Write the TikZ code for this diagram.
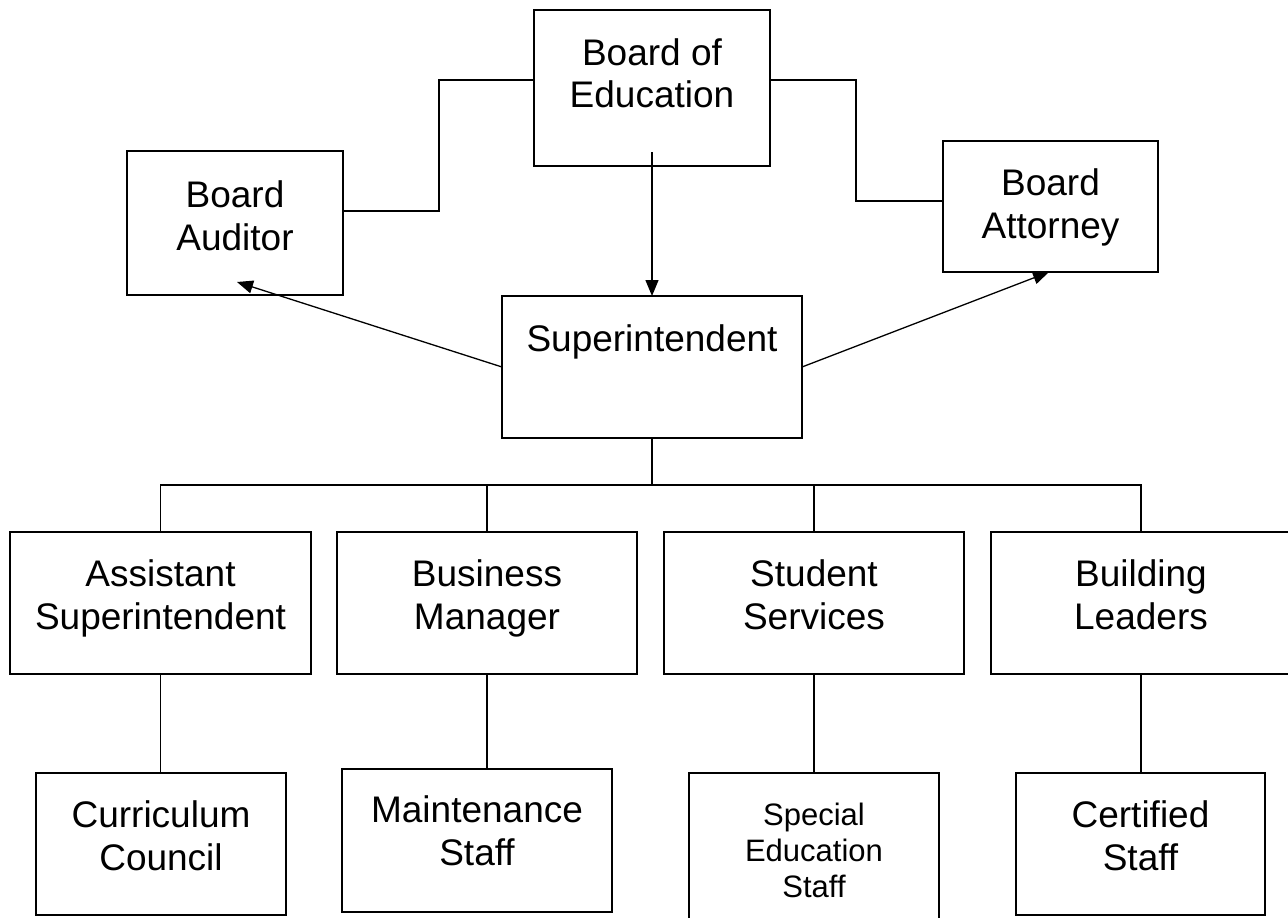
\documentclass[tikz,border=0pt]{standalone}
\usepackage{fontspec}
\setmainfont{Liberation Sans}
\usetikzlibrary{arrows.meta}
\begin{document}
\begin{tikzpicture}[x=1pt,y=-1pt,
  box/.style={draw, line width=1.6pt, inner sep=0pt, outer sep=0pt},
  txt/.style={align=center, inner sep=0pt, anchor=north, font=\fontsize{37}{42.5}\selectfont},
  smalltxt/.style={align=center, inner sep=0pt, anchor=north, font=\fontsize{31}{36}\selectfont},
  link/.style={line width=1.3pt},
  arr/.style={line width=1.3pt, -{Triangle[length=16pt,width=13pt]}}]
\useasboundingbox (0,0) rectangle (1288,918);
\clip (0,0) rectangle (1288,918);
% boxes
\node[box, minimum width=236pt, minimum height=156pt] (boe) at (652,88) {};
\node[box, minimum width=216pt, minimum height=144pt] (aud) at (235,223) {};
\node[box, minimum width=215pt, minimum height=131pt] (att) at (1050.5,206.5) {};
\node[box, minimum width=300pt, minimum height=142pt] (sup) at (652,367) {};
\node[box, minimum width=301pt, minimum height=142pt] (asst) at (160.5,603) {};
\node[box, minimum width=300pt, minimum height=142pt] (biz) at (487,603) {};
\node[box, minimum width=300pt, minimum height=142pt] (stu) at (814,603) {};
\node[box, minimum width=300pt, minimum height=142pt] (bld) at (1141,603) {};
\node[box, minimum width=250pt, minimum height=142pt] (cur) at (161,844) {};
\node[box, minimum width=270pt, minimum height=143pt] (mnt) at (477,840.5) {};
\node[box, minimum width=250pt, minimum height=160pt] (spe) at (814,853) {};
\node[box, minimum width=249pt, minimum height=142pt] (cer) at (1140.5,844) {};
% texts
\node[txt] (boeT) at (652,35.5) {\strut Board of\\Education};
\node[txt] (audT) at (235,178) {\strut Board\\Auditor};
\node[txt] (attT) at (1050.5,166) {\strut Board\\Attorney};
\node[txt] (supT) at (652,322) {\strut Superintendent};
\node[txt] (asstT) at (160.5,557) {\strut Assistant\\Superintendent};
\node[txt] (bizT) at (487,557) {\strut Business\\Manager};
\node[txt] (stuT) at (814,557) {\strut Student\\Services};
\node[txt] (bldT) at (1141,557) {\strut Building\\Leaders};
\node[txt] (curT) at (161,798) {\strut Curriculum\\Council};
\node[txt] (mntT) at (477,793) {\strut Maintenance\\Staff};
\node[smalltxt] (speT) at (814,800) {\strut Special\\Education\\Staff};
\node[txt] (cerT) at (1140.5,798) {\strut Certified\\Staff};
% top connectors
\coordinate (ja) at (439,80);
\coordinate (jb) at (439,211);
\coordinate (jc) at (856,80);
\coordinate (jd) at (856,201);
\draw[link] (boe.west |- ja) -- (ja) -- (jb) -- (aud.east |- jb);
\draw[link] (boe.east |- jc) -- (jc) -- (jd) -- (att.west |- jd);
\coordinate (boeA) at (652,152);
\draw[arr] (boeA) -- (sup.north);
\coordinate (audA) at (237,282);
\draw[arr] (sup.west) -- (audA);
\coordinate (attA) at (1049,272);
\draw[arr] (sup.east) -- (attA);
% bus
\coordinate (hub) at (652,485);
\draw[line width=2.4pt] (sup.south) -- (hub);
\draw[line width=1.5pt] (asst.north) -- (asst.north |- hub) -- (bld.north |- hub) -- (bld.north);
\draw[line width=2.2pt] (biz.north |- hub) -- (stu.north |- hub);
\draw[link] (biz.north |- hub) -- (biz.north);
\draw[link] (stu.north |- hub) -- (stu.north);
% level 2 to level 3
\draw[link] (asst.south) -- (asst.south |- cur.north);
\draw[link] (biz.south) -- (biz.south |- mnt.north);
\draw[link] (stu.south) -- (stu.south |- spe.north);
\draw[link] (bld.south) -- (bld.south |- cer.north);
\end{tikzpicture}
\end{document}
